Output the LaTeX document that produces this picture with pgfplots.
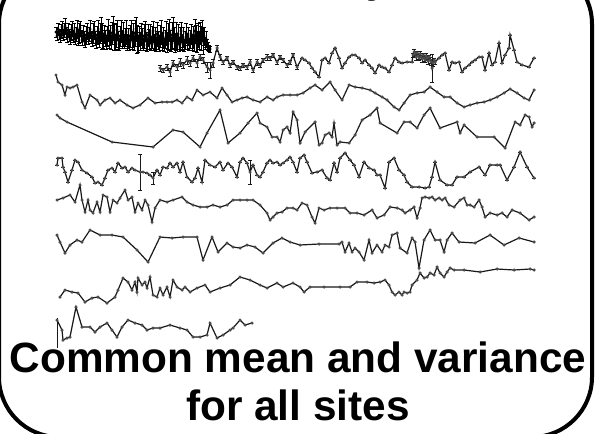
\documentclass[border=0pt]{standalone}
\usepackage{pgfplots}
\pgfplotsset{compat=1.18}
\usepackage{fontspec}
\setmainfont{Liberation Sans}
\begin{document}
\begin{tikzpicture}[x=1bp,y=-1bp]
\useasboundingbox (0,0) rectangle (597,434);
\clip (0,0) rectangle (597,434);
\begin{axis}[at={(0,0)},anchor=north west,width=597bp,height=434bp,scale only axis,
  xmin=0,xmax=597,ymin=0,ymax=434,y dir=reverse,hide axis,clip=false,
  ser/.style={black!90,solid,line width=1.2bp,mark=*,mark size=0.9,mark options={solid,fill=black!70,draw=black!70}},
  err/.style={/pgfplots/error bars/y dir=both,/pgfplots/error bars/y explicit,/pgfplots/error bars/error bar style={solid,line width=0.9bp,black!90},/pgfplots/error bars/error mark options={solid,rotate=90,mark size=1.9,line width=0.9bp,black!90}},
  errb/.style={/pgfplots/error bars/y dir=both,/pgfplots/error bars/y explicit,/pgfplots/error bars/error bar style={solid,line width=0.9bp,black},/pgfplots/error bars/error mark options={solid,rotate=90,mark size=2.1,line width=0.9bp,black}}]
% row 1
\addplot[ser,black,line width=1.0bp,mark size=1.0,mark options={fill=black,draw=black},errb] table[x=x,y=y,y error=e]{
x y e
56 32 5
57 36 4
58 29 6
59 34 5
60 38 4
61 31 7
62 27 6
63 35 5
64 30 7
65 26 8
66 33 6
67 37 5
68 30 7
69 35 6
70 39 5
71 32 8
72 28 7
73 36 6
74 31 8
75 39 5
76 34 7
77 29 9
78 37 8
79 33 10
80 28 7
81 36 6
82 40 5
83 33 8
84 38 7
85 42 5
86 35 9
87 31 8
88 38 6
89 34 7
90 29 9
91 37 6
92 41 5
93 33 10
94 30 9
95 38 7
96 43 5
97 35 9
98 31 11
99 39 8
100 33 10
101 29 12
102 36 13
103 41 7
104 34 9
105 38 8
106 43 6
107 36 10
108 30 11
109 39 9
110 35 10
111 42 7
112 33 11
113 28 12
114 37 13
115 42 8
116 35 12
117 30 10
118 40 9
119 44 6
120 36 10
121 31 11
122 39 9
123 34 12
124 41 7
125 37 9
126 32 12
127 42 8
128 38 10
129 45 5
130 36 11
131 30 10
132 40 9
133 35 12
134 43 7
135 33 13
136 29 12
137 39 14
138 44 8
139 36 10
140 41 9
141 34 11
142 38 10
143 44 6
144 36 12
145 31 10
146 41 9
147 45 6
148 35 11
149 39 10
150 33 9
151 43 7
152 37 11
153 31 10
154 42 8
155 38 11
156 45 6
157 34 12
158 40 9
159 44 7
160 36 11
161 32 12
162 41 9
163 37 10
164 45 6
165 39 9
166 33 12
167 42 10
168 36 13
169 30 11
170 40 10
171 44 7
172 35 13
173 29 12
174 38 11
175 43 9
176 36 14
177 41 8
178 34 10
179 44 7
180 38 11
181 31 9
182 42 8
183 37 10
184 45 6
185 40 9
186 33 10
187 41 8
188 36 9
189 44 6
190 39 9
191 34 10
192 42 8
193 37 11
194 44 7
195 31 12
196 38 13
197 42 10
198 35 12
199 40 9
200 33 11
201 38 12
202 30 10
203 41 13
204 36 9
205 43 6
206 39 8
207 44 5
208 46 4
209 48 3
210 49 3
};
% row 2
\addplot[ser,err] table[x=x,y=y,y error=e]{
x y e
160 68 3
163 70 2
167 67 3
170 72 4
173 63 3
177 67 3
180 62 4
183 65 3
187 60 4
190 63 3
193 58 3
197 63 4
200 57 3
203 60 3
207 67 5
210 70 8
213 63 4
217 48 3
220 57 3
223 62 2
227 58 2
230 65 2
233 62 2
237 67 2
240 68 2
243 65 2
247 67 2
250 62 3
253 70 2
257 62 3
260 65 2
263 60 2
267 57 3
270 58 2
273 55 2
277 62 2
280 57 2
283 60 2
287 65 2
290 62 2
293 55 2
297 67 2
302 58 0
305 60 0
309 63 0
312 68 0
315 72 0
319 77 0
322 60 0
325 58 0
329 63 0
332 53 0
335 48 0
339 58 0
342 68 0
345 63 0
349 57 0
352 55 0
355 55 0
359 58 0
362 63 0
365 60 0
369 65 0
372 68 0
375 73 0
379 65 0
382 67 0
385 68 0
389 72 0
392 65 0
395 58 0
399 62 0
402 63 0
407 62 0
412 62 0
413 55 2
414 52 3
415 54 2
416 57 3
417 53 2
418 56 3
419 58 2
420 54 3
421 57 2
422 59 3
423 55 2
424 58 3
425 60 2
426 56 3
427 58 2
428 61 3
429 57 2
430 60 3
431 62 3
432 68 14
433 63 3
434 60 2
435 62 2
439 58 0
442 55 0
445 53 0
449 70 0
452 62 0
455 63 0
459 62 0
462 72 0
465 68 0
469 65 0
472 62 0
475 60 0
479 57 0
482 57 0
485 70 0
489 53 0
492 65 0
495 62 0
499 43 0
502 63 0
505 55 0
509 48 0
510 35 0
514 50 0
517 62 0
522 65 0
529 67 0
534 58 0
};
% row 3
\addplot[ser] coordinates {(56,75)(58,82)(62,85)(65,95)(67,87)(70,88)(73,87)(77,85)(82,102)(85,108)(90,95)(97,100)(100,105)(105,100)(110,98)(115,103)(120,100)(127,105)(133,108)(140,105)(148,98)(155,103)(162,102)(167,102)(172,102)(177,100)(182,103)(187,97)(192,100)(197,90)(203,95)(210,92)(217,98)(222,88)(227,95)(232,102)(237,100)(242,98)(247,97)(253,100)(260,102)(267,97)(273,100)(277,97)(283,95)(290,95)(297,95)(303,93)(310,88)(315,85)(322,90)(330,82)(335,90)(342,100)(349,85)(355,87)(362,88)(370,90)(375,93)(382,97)(387,100)(394,107)(399,110)(404,103)(410,95)(417,93)(424,92)(430,87)(437,92)(444,97)(450,97)(457,103)(464,107)(470,105)(477,103)(484,102)(490,100)(497,97)(504,93)(510,89)(517,93)(524,98)(529,100)(534,90)};
% row 4
\addplot[ser] coordinates {(57,115)(60,118)(67,122)(112,142)(153,147)(173,130)(183,132)(200,147)(207,133)(220,110)(228,143)(240,133)(248,123)(257,113)(260,123)(267,127)(272,137)(277,137)(280,142)(283,130)(287,127)(290,133)(293,112)(297,120)(300,143)(305,132)(315,122)(319,145)(322,143)(325,135)(329,133)(332,137)(334,123)(337,145)(340,142)(349,143)(355,135)(362,120)(370,115)(377,108)(380,123)(397,133)(404,122)(410,122)(417,128)(424,115)(430,108)(440,128)(457,122)(460,133)(464,125)(477,137)(494,137)(505,148)(515,122)(520,125)(525,115)(529,117)(532,127)(534,123)};
% row 5
\addplot[ser,err] table[x=x,y=y,y error=e]{
x y e
57 165 0
58 158 0
62 158 0
63 167 0
65 172 0
68 182 0
72 170 0
75 160 0
78 162 0
82 170 0
87 173 0
92 177 0
95 183 0
98 182 0
102 185 0
105 178 0
108 170 0
112 168 0
115 172 0
118 163 0
122 168 0
125 167 0
128 172 0
132 168 0
135 170 0
140 172 18
143 172 0
147 173 0
150 175 0
153 178 6
157 170 0
160 175 0
163 167 0
167 168 0
170 163 0
173 167 0
177 163 0
180 172 0
183 162 0
187 177 0
192 182 0
195 178 0
198 168 0
202 182 0
205 160 0
210 165 0
215 167 0
220 162 0
223 170 0
228 163 0
232 167 0
237 177 0
240 162 0
243 158 0
247 163 0
250 172 12
253 165 0
257 175 0
260 177 0
263 172 0
267 163 0
270 160 0
273 163 0
277 162 0
280 165 0
283 163 0
287 160 0
290 157 0
293 162 0
297 172 0
300 158 0
304 155 0
307 162 0
312 173 0
317 172 0
322 170 0
327 178 0
330 180 0
334 163 0
337 172 0
340 158 0
345 153 0
350 160 0
354 165 0
359 177 0
364 162 0
369 168 0
374 170 0
377 175 0
380 175 0
385 188 0
389 162 0
394 158 0
399 170 0
404 175 0
407 182 0
412 187 0
419 187 0
425 188 0
429 187 0
432 177 0
435 162 0
440 180 0
447 185 0
452 185 0
457 177 0
464 177 0
470 172 0
479 167 0
485 175 0
490 165 0
497 165 0
500 165 0
507 180 0
514 167 0
520 152 0
527 167 0
534 178 0
};
% row 6
\addplot[ser] coordinates {(57,200)(63,198)(70,195)(75,202)(80,185)(82,200)(85,212)(88,200)(90,210)(93,213)(97,202)(100,212)(103,195)(107,197)(110,212)(113,200)(117,203)(120,198)(125,190)(128,200)(132,197)(135,212)(138,203)(142,210)(145,200)(148,205)(152,222)(155,208)(160,200)(167,202)(173,200)(182,197)(187,202)(193,205)(200,207)(207,207)(213,205)(220,207)(227,205)(233,200)(240,200)(247,200)(253,200)(260,205)(267,213)(270,220)(273,217)(277,213)(282,212)(287,208)(293,208)(297,210)(302,203)(307,205)(312,217)(315,223)(319,208)(324,210)(330,208)(337,208)(345,208)(350,213)(357,213)(364,215)(372,210)(377,218)(384,215)(390,207)(397,208)(402,210)(405,213)(410,210)(414,207)(417,218)(420,208)(422,198)(425,197)(429,198)(432,197)(435,200)(439,198)(442,200)(445,198)(449,205)(454,207)(460,200)(464,198)(467,205)(470,205)(474,207)(479,200)(482,207)(485,217)(490,213)(497,215)(502,213)(507,217)(512,210)(520,213)(529,220)(534,217)};
% row 7
\addplot[ser] coordinates {(57,235)(60,242)(65,253)(70,245)(77,240)(82,242)(90,230)(100,235)(112,235)(123,237)(137,250)(148,262)(160,237)(172,238)(183,237)(197,237)(203,260)(212,237)(218,252)(227,243)(233,247)(240,248)(247,245)(255,247)(263,253)(273,243)(282,238)(290,242)(300,245)(319,244)(339,244)(342,242)(345,252)(349,243)(352,252)(355,248)(359,252)(364,260)(369,240)(372,253)(377,245)(382,252)(385,245)(389,247)(392,235)(397,233)(400,248)(407,253)(412,238)(415,242)(419,268)(424,240)(430,230)(435,240)(440,240)(444,252)(447,240)(452,233)(459,242)(475,243)(490,235)(504,245)(519,238)(534,242)};
% row 8
\addplot[ser] coordinates {(60,297)(65,290)(72,292)(78,293)(85,302)(92,298)(98,297)(107,303)(115,297)(118,290)(123,278)(128,282)(132,290)(135,282)(137,292)(138,278)(142,285)(145,282)(147,288)(150,277)(153,295)(157,297)(160,288)(163,295)(167,287)(170,297)(173,280)(177,287)(182,290)(185,287)(190,292)(197,288)(205,285)(210,292)(220,288)(230,285)(240,277)(250,280)(260,285)(267,288)(277,283)(283,287)(293,283)(300,287)(304,292)(310,287)(324,287)(340,287)(350,287)(357,282)(367,282)(374,283)(380,282)(385,280)(389,285)(392,292)(395,295)(399,292)(402,295)(404,292)(407,293)(410,292)(412,285)(417,280)(420,273)(424,278)(427,277)(430,273)(434,275)(437,267)(440,273)(444,277)(447,272)(450,268)(454,270)(464,270)(480,272)(497,269)(514,270)(530,269)(534,270)};
% row 9
\addplot[ser] coordinates {(57,320)(62,330)(63,340)(67,338)(70,337)(76,307)(82,327)(90,327)(95,332)(100,327)(107,323)(112,330)(117,337)(122,327)(128,320)(135,323)(142,325)(147,330)(153,328)(160,328)(170,325)(180,328)(187,330)(193,337)(200,337)(207,335)(210,323)(217,338)(223,335)(230,330)(233,328)(240,320)(245,325)(252,323)};
\addplot[black!90,line width=0.8bp] coordinates {(57,318)(57,348)};
\end{axis}
\draw[line width=4bp,rounded corners=60bp] (-1,-36) rectangle (592,437);
\node[anchor=base,inner sep=0pt,font=\fontsize{42.5}{46}\selectfont\bfseries] at (378,-7) {y};
\node[anchor=base,inner sep=0pt,font=\fontsize{42.5}{46}\selectfont\bfseries] at (298,372) {Common mean and variance};
\node[anchor=base,inner sep=0pt,font=\fontsize{42.5}{46}\selectfont\bfseries] at (298,420) {for all sites};
\end{tikzpicture}
\end{document}
